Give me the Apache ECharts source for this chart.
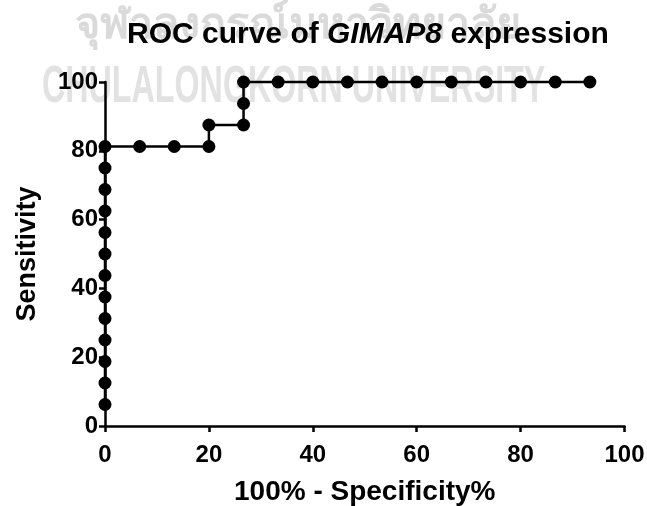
<!DOCTYPE html>
<html>
<head>
<meta charset="utf-8">
<script src="https://cdn.jsdelivr.net/npm/echarts@6/dist/echarts.min.js"></script>
<style>html,body{margin:0;padding:0;background:#fff;}#c{width:647px;height:506px;}</style>
</head>
<body>
<div id="c"></div>
<script>
// 100% - Specificity% (x) and Sensitivity (y) for each ROC point
var fpr = [0, 0, 0, 0, 0, 0, 0, 0, 0, 0, 0, 0, 0,
           6.67, 13.33, 20, 20, 26.67, 26.67, 26.67,
           33.33, 40, 46.67, 53.33, 60, 66.67, 73.33, 80, 86.67, 93.33];
var tpr = [6.25, 12.5, 18.75, 25, 31.25, 37.5, 43.75, 50, 56.25, 62.5, 68.75, 75, 81.25,
           81.25, 81.25, 81.25, 87.5, 87.5, 93.75, 100,
           100, 100, 100, 100, 100, 100, 100, 100, 100, 100];
var xTicks = [0, 20, 40, 60, 80, 100];
var yTicks = [0, 20, 40, 60, 80, 100];
var titleParts = ['ROC curve of ', 'GIMAP8', ' expression'];
var xName = '100% - Specificity%';
var yName = 'Sensitivity';
var watermarkThai = 'จุฬาลงกรณ์มหาวิทยาลัย';
var watermarkEng = 'CHULALONGKORN UNIVERSITY';

var points = fpr.map(function (x, i) { return [x, tpr[i]]; });
var font = 'Liberation Sans, Arial, sans-serif';
var chart = echarts.init(document.getElementById('c'), null, {renderer: 'canvas'});
var axisCommon = {
  type: 'value', min: 0, max: 100, interval: 20,
  axisLine: {show: true, lineStyle: {color: '#000', width: 2.5}},
  axisTick: {show: true, inside: false, length: 6, lineStyle: {color: '#000', width: 2.5}},
  splitLine: {show: false},
  nameLocation: 'middle'
};
var labelStyle = {color: '#000', fontFamily: font, fontWeight: 'bold', fontSize: 24};
chart.setOption({
  backgroundColor: '#fff',
  animation: false,
  graphic: [
    {type: 'text', left: 75, top: 4, z: 0, silent: true,
     style: {text: watermarkThai, fill: '#dadada', font: 'bold 43px "Noto Sans", "DejaVu Sans", sans-serif'}},
    {type: 'text', left: 42, top: 62, z: 0, silent: true, scaleX: 0.62,
     style: {text: watermarkEng, fill: '#e2e2e2', font: 'bold 52px "Liberation Sans", Arial, sans-serif'}}
  ],
  title: {
    left: 122, top: 15,
    text: '{b|' + titleParts[0] + '}{i|' + titleParts[1] + '}{b|' + titleParts[2] + '}',
    textStyle: {
      rich: {
        b: {fontFamily: font, fontWeight: 'bold', fontSize: 30, color: '#000'},
        i: {fontFamily: font, fontWeight: 'bold', fontStyle: 'italic', fontSize: 30, color: '#000'}
      }
    }
  },
  grid: {left: 105, right: 22.5, top: 82, bottom: 80, containLabel: false, outerBoundsMode: 'none'},
  xAxis: Object.assign({}, axisCommon, {
    name: xName, nameGap: 52,
    nameTextStyle: {color: '#000', fontFamily: font, fontWeight: 'bold', fontSize: 28},
    axisLabel: Object.assign({}, labelStyle, {
      margin: 17,
      formatter: function (v) { return xTicks.indexOf(v) >= 0 ? String(v) : ''; }
    })
  }),
  yAxis: Object.assign({}, axisCommon, {
    name: yName, nameGap: 64,
    nameTextStyle: {color: '#000', fontFamily: font, fontWeight: 'bold', fontSize: 27},
    axisLabel: Object.assign({}, labelStyle, {
      margin: 7,
      formatter: function (v) { return yTicks.indexOf(v) >= 0 ? String(v) : ''; }
    })
  }),
  series: [{
    type: 'line',
    data: points,
    z: 3,
    symbol: 'circle',
    symbolSize: 13,
    showSymbol: true,
    clip: false,
    itemStyle: {color: '#000'},
    lineStyle: {color: '#000', width: 2.5}
  }]
});
</script>
</body>
</html>
